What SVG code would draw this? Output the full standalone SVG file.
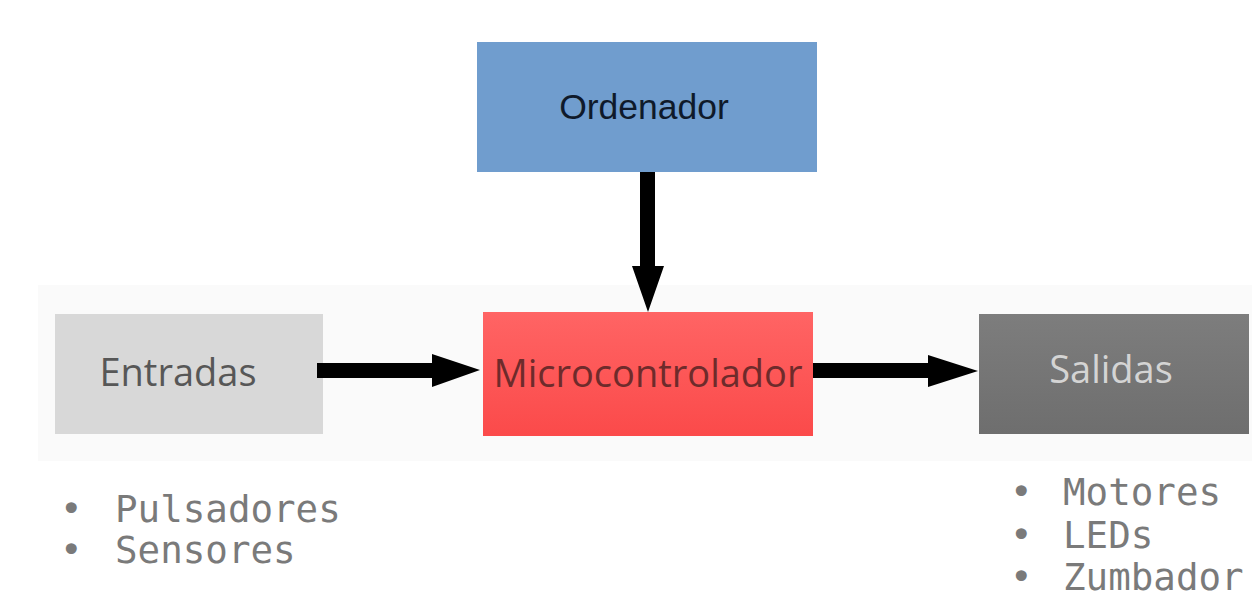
<svg xmlns="http://www.w3.org/2000/svg" width="1252" height="596" viewBox="0 0 1252 596">
  <defs>
    <linearGradient id="gRed" x1="0" y1="0" x2="0" y2="1">
      <stop offset="0" stop-color="#ff6464"/>
      <stop offset="1" stop-color="#fb4a4a"/>
    </linearGradient>
    <linearGradient id="gGray" x1="0" y1="0" x2="0" y2="1">
      <stop offset="0" stop-color="#7d7d7d"/>
      <stop offset="1" stop-color="#6e6e6e"/>
    </linearGradient>
    <style>
      .lbl { font-family: "Open Sans", "Noto Sans", sans-serif; text-anchor: middle; font-size: 38px; }
      .mono { font-family: "DejaVu Sans Mono", "Liberation Mono", monospace; font-size: 37.5px; fill: #7a7a7a; }
      .conn { fill: #000000; }
    </style>
  </defs>
  <rect x="0" y="0" width="1252" height="596" fill="#ffffff"/>
  <rect x="38" y="285" width="1214" height="176" fill="#fafafa"/>

  <g id="ordenador">
    <rect x="477" y="42" width="340" height="130" fill="#709dce"/>
    <text x="644" y="119" font-family="Liberation Sans, Arial, sans-serif" font-size="35.5" fill="#0f1a2a" text-anchor="middle">Ordenador</text>
  </g>

  <g id="entradas">
    <rect x="55" y="314" width="268" height="120" fill="#d8d8d8"/>
    <text class="lbl" x="178" y="386" fill="#575757">Entradas</text>
  </g>

  <g id="microcontrolador">
    <rect x="483" y="312" width="330" height="124" fill="url(#gRed)"/>
    <text class="lbl" x="648" y="387" fill="#6e2b2b">Microcontrolador</text>
  </g>

  <g id="salidas">
    <rect x="979" y="314" width="270" height="120" fill="url(#gGray)"/>
    <text class="lbl" x="1111" y="383" fill="#d4d4d4">Salidas</text>
  </g>

  <g id="connectors">
    <polygon class="conn" points="640,172 655,172 655,266 664,266 648,312 632,266 640,266"/>
    <polygon class="conn" points="317,363 432,363 432,354 480,370 432,387 432,378 317,378"/>
    <polygon class="conn" points="813,363 928,363 928,355 978,371 928,387 928,378 813,378"/>
  </g>

  <g id="entradas-list">
    <text class="mono" x="60" y="522">•</text>
    <text class="mono" x="115" y="522">Pulsadores</text>
    <text class="mono" x="60" y="563">•</text>
    <text class="mono" x="115" y="563">Sensores</text>
  </g>

  <g id="salidas-list">
    <text class="mono" x="1010" y="505">•</text>
    <text class="mono" x="1063" y="505">Motores</text>
    <text class="mono" x="1010" y="548">•</text>
    <text class="mono" x="1063" y="548">LEDs</text>
    <text class="mono" x="1010" y="590">•</text>
    <text class="mono" x="1063" y="590">Zumbador</text>
  </g>
</svg>
